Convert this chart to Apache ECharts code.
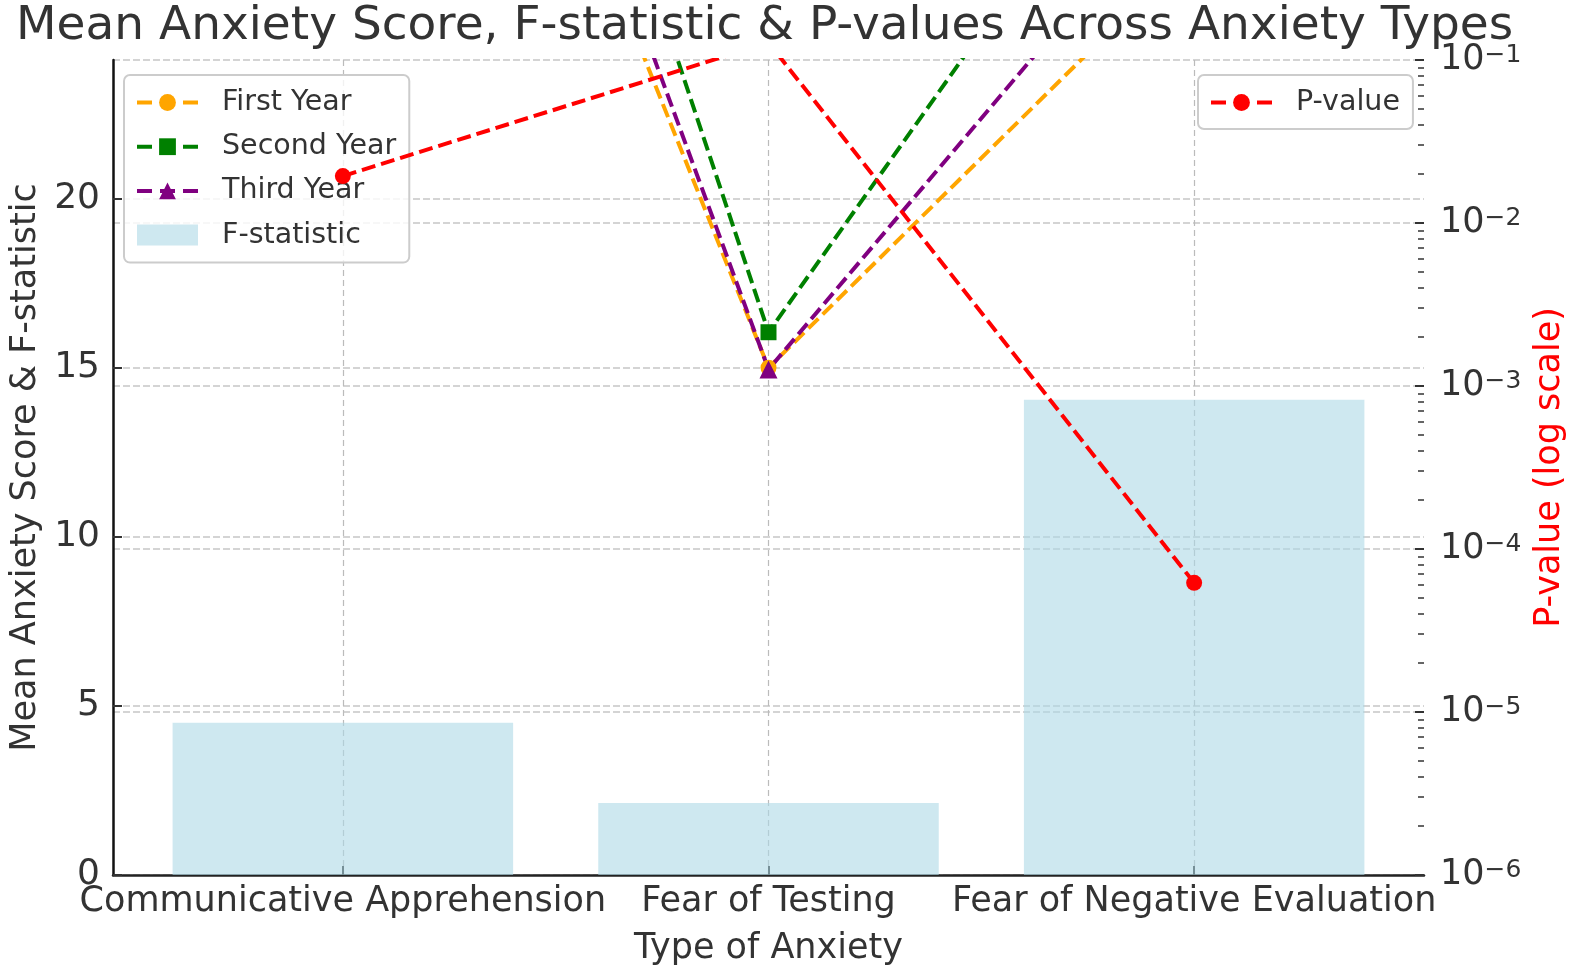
<!DOCTYPE html>
<html>
<head>
<meta charset="utf-8">
<title>Mean Anxiety Score, F-statistic & P-values</title>
<style>
  html, body { margin: 0; padding: 0; background: #fff; }
  #chart { width: 1595px; height: 977px; }
</style>
<script src="https://cdn.jsdelivr.net/npm/echarts@6/dist/echarts.min.js"></script>
</head>
<body>
<div id="chart"></div>
<script>
var categories = ['Communicative Apprehension', 'Fear of Testing', 'Fear of Negative Evaluation'];
var firstYear = [46.4, 15.0, 27.4];
var secondYear = [53.8, 16.05, 33.8];
var thirdYear = [49.2, 14.95, 29.8];
var fStatistic = [4.5, 2.13, 14.05];
var pValues = [0.0194, 0.128, 0.000062];

var catTicks = [0, 1, 2];
var scoreTicks = [0, 5, 10, 15, 20];

// minor ticks of the log axis: 2..9 in each decade
var pMinorTicks = [];
for (var k = -6; k < -1; k++) {
  for (var m = 2; m < 10; m++) pMinorTicks.push(m * Math.pow(10, k));
}

var font = 'DejaVu Sans';
var ink = '#333';
var gridColor = '#d4d4d4';

function pairs(vals) {
  return vals.map(function (v, i) { return [i, v]; });
}

function yearLine(name, vals, color, symbol, size) {
  return {
    name: name, type: 'line', data: pairs(vals), clip: true,
    symbol: symbol, symbolSize: size,
    lineStyle: { color: color, width: 4, type: [14, 6] },
    itemStyle: { color: color },
    z: 3
  };
}

var legendBase = {
  orient: 'vertical',
  itemWidth: 61, itemHeight: 21, itemGap: 15.2,
  backgroundColor: 'rgba(255,255,255,0.8)',
  borderColor: '#cccccc', borderWidth: 2, borderRadius: 6,
  lineStyle: { width: 4, type: [15, 8] },
  textStyle: { fontSize: 28.5, color: ink, fontFamily: font, padding: [0, 0, 0, 19] }
};

var chart = echarts.init(document.getElementById('chart'));
chart.setOption({
  animation: false,
  textStyle: { fontFamily: font },
  title: {
    text: 'Mean Anxiety Score, F-statistic & P-values Across Anxiety Types',
    left: 16, top: 0, padding: [3, 0, 0, 0],
    textStyle: { fontSize: 47, fontWeight: 'normal', color: ink, fontFamily: font }
  },
  legend: [
    Object.assign({}, legendBase, {
      data: ['First Year', 'Second Year', 'Third Year', { name: 'F-statistic', icon: 'rect' }],
      left: 124, top: 75, padding: [13, 13, 13, 11], z: 4
    }),
    Object.assign({}, legendBase, {
      data: ['P-value'],
      left: 1198, top: 75, padding: [13, 13, 12, 11], z: 4
    })
  ],
  grid: { left: 110, right: 171, top: 60, bottom: 102 },
  xAxis: {
    type: 'value', min: -0.54, max: 2.54,
    name: 'Type of Anxiety', nameLocation: 'middle', nameGap: 56,
    nameTextStyle: { fontSize: 35, color: ink },
    axisLine: { show: true, onZero: false, lineStyle: { color: '#222', width: 2.5 } },
    axisTick: { show: true, inside: true, length: 9, customValues: catTicks, lineStyle: { color: '#222', width: 2 } },
    axisLabel: {
      customValues: catTicks, fontSize: 35, color: ink, margin: 9,
      formatter: function (v) { return categories[Math.round(v)]; }
    },
    splitLine: { show: true, lineStyle: { color: '#bbbbbb', width: 1.2, type: [6, 4] } }
  },
  yAxis: [
    {
      type: 'value', min: 0, max: 24.1, position: 'left',
      name: 'Mean Anxiety Score & F-statistic', nameLocation: 'middle', nameGap: 70,
      nameTextStyle: { fontSize: 35, color: ink },
      axisLine: { show: true, onZero: false, lineStyle: { color: '#111', width: 2.5 } },
      axisTick: { show: true, inside: true, length: 9, customValues: scoreTicks, lineStyle: { color: ink, width: 2 } },
      axisLabel: { customValues: scoreTicks, fontSize: 36, color: ink, margin: 13 },
      splitLine: { show: true, lineStyle: { color: gridColor, width: 2, type: [7, 3] } }
    },
    {
      type: 'log', logBase: 10, min: 1e-6, max: 0.1, position: 'right',
      name: 'P-value (log scale)', nameLocation: 'middle', nameRotate: 90, nameGap: 102,
      nameTextStyle: { fontSize: 35, color: '#ff0000' },
      axisLine: { show: false, onZero: false },
      axisTick: { show: true, inside: true, length: 9, lineStyle: { color: ink, width: 2 } },
      axisLabel: {
        margin: 16,
        formatter: function (v) {
          var e = Math.round(Math.log(v) / Math.LN10);
          return '{b|10}{s|\u2212' + (-e) + '}';
        },
        rich: {
          b: { fontSize: 35, lineHeight: 35, verticalAlign: 'bottom', color: ink },
          s: { fontSize: 25, lineHeight: 14, verticalAlign: 'top', color: ink }
        }
      },
      splitLine: { show: true, lineStyle: { color: gridColor, width: 2, type: [7, 3] } }
    },
    {
      type: 'log', logBase: 10, min: 1e-6, max: 0.1, position: 'right',
      axisLine: { show: false, onZero: false }, axisLabel: { show: false }, splitLine: { show: false },
      axisTick: { show: true, inside: true, length: 6, customValues: pMinorTicks, lineStyle: { color: ink, width: 1.5 } }
    }
  ],
  series: [
    {
      name: 'F-statistic', type: 'bar', data: pairs(fStatistic), barWidth: '80%',
      itemStyle: { color: '#ADD8E6', opacity: 0.6 }, z: 1
    },
    yearLine('First Year', firstYear, '#FFA500', 'circle', 16),
    yearLine('Second Year', secondYear, '#008000', 'rect', 16),
    yearLine('Third Year', thirdYear, '#800080', 'triangle', 18),
    {
      name: 'P-value', type: 'line', yAxisIndex: 1, data: pairs(pValues), clip: true,
      symbol: 'circle', symbolSize: 16,
      lineStyle: { color: '#FF0000', width: 4, type: [14, 6] },
      itemStyle: { color: '#FF0000' },
      z: 5
    }
  ]
});
window.addEventListener('resize', function () { chart.resize(); });
</script>
</body>
</html>
